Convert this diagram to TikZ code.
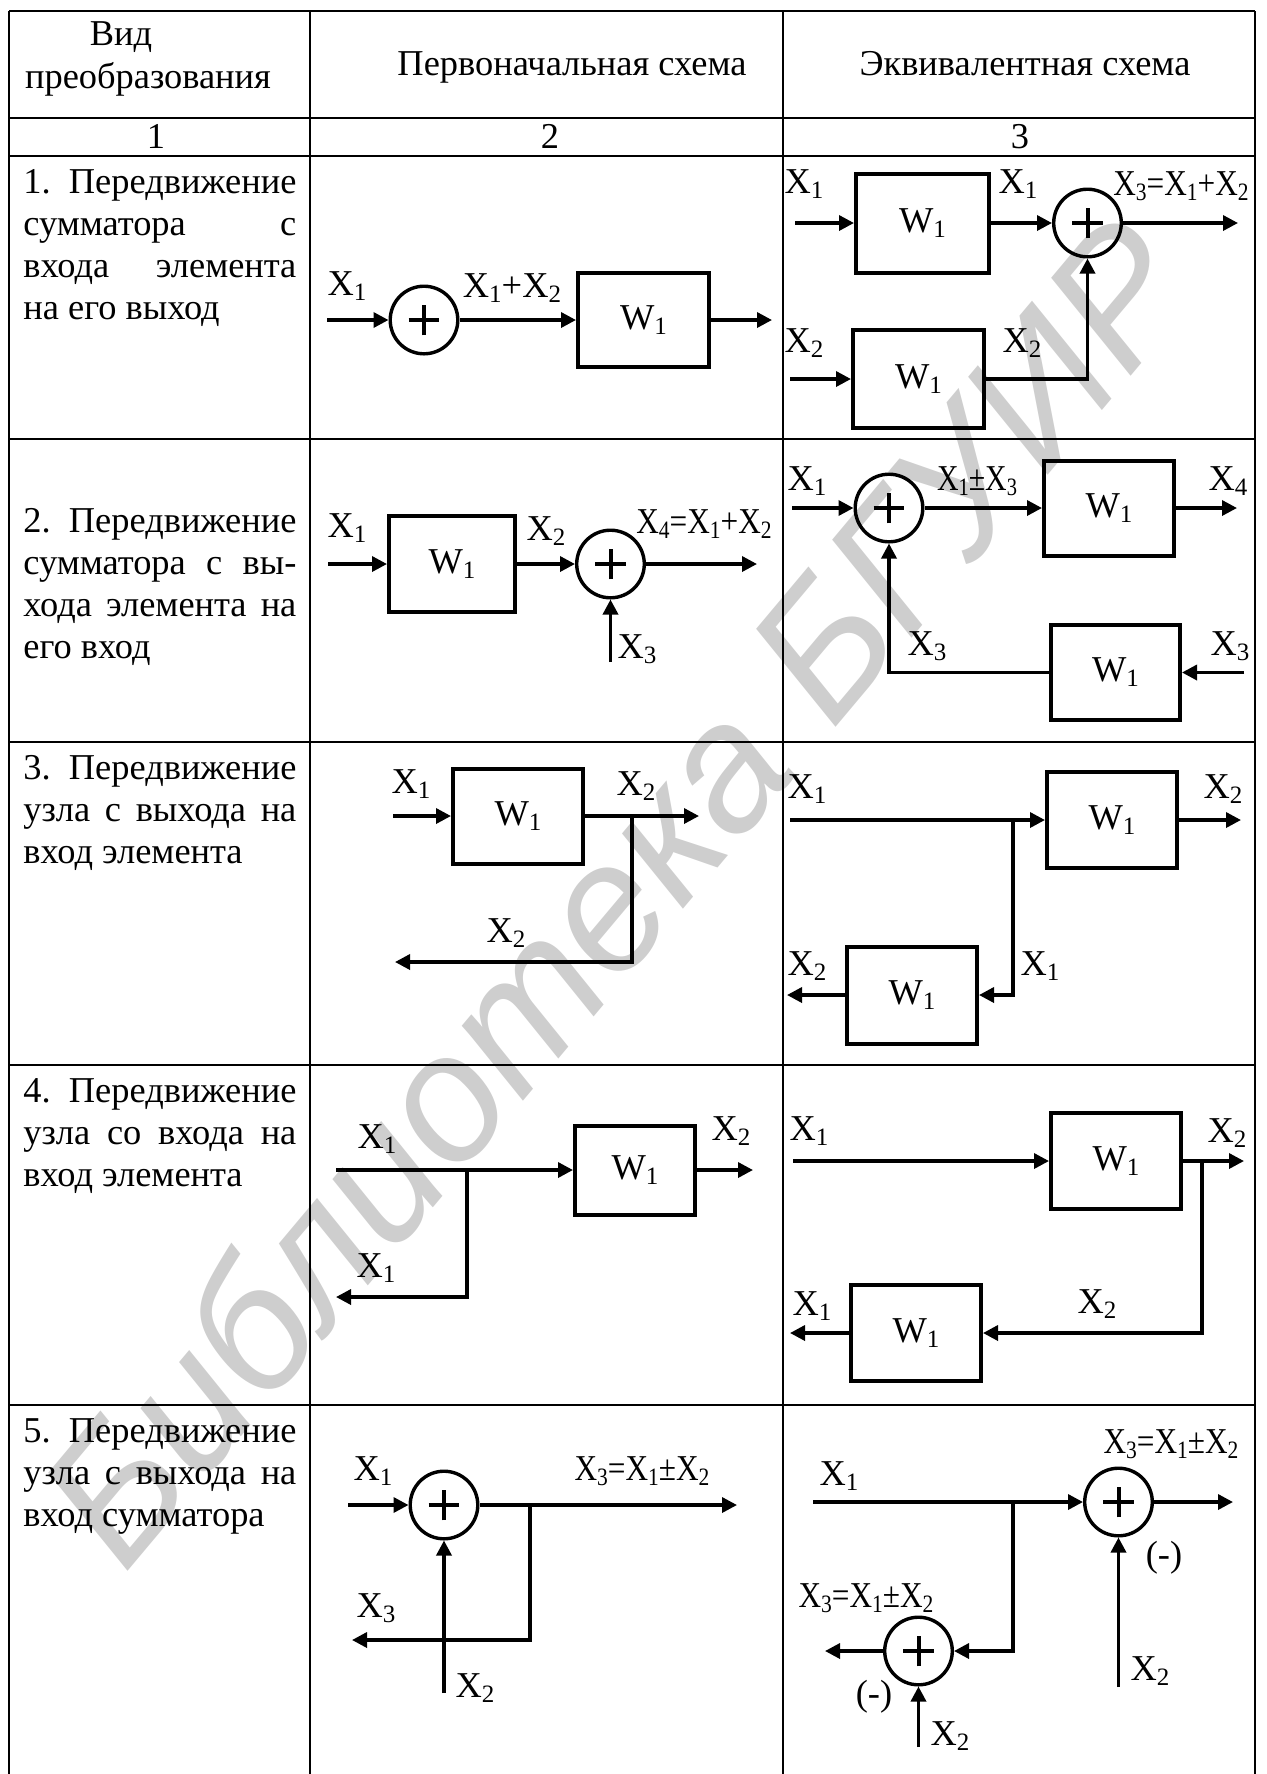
\documentclass[tikz,border=0pt]{standalone}
\usepackage{fontspec}
\usepackage{graphicx}
\setmainfont{Liberation Serif}
\newfontfamily\wmfont{Liberation Sans}
\usetikzlibrary{arrows.meta}
\definecolor{wmgray}{RGB}{206,206,206}
\newcommand{\lo}[1]{\raisebox{-2.5pt}{\fontsize{12.5pt}{12.5pt}\selectfont #1}}
\newcommand{\X}[1]{X\lo{#1}}
\newcommand{\cnd}[2]{\scalebox{#1}[1]{#2}}
\newcommand{\mainfs}{\fontsize{18.2pt}{21pt}\selectfont}
\tikzset{
  lbl/.style={inner sep=0pt, anchor=base, font=\mainfs},
  blk/.style={draw, line width=2pt, inner sep=0pt, font=\mainfs},
  sum/.style={circle, draw, line width=1.7pt, minimum size=33.8pt, inner sep=0pt,
     path picture={\draw[line width=2pt] ([xshift=-7.7pt]path picture bounding box.center) -- ([xshift=7.7pt]path picture bounding box.center);
                   \draw[line width=2pt] ([yshift=-7.7pt]path picture bounding box.center) -- ([yshift=7.7pt]path picture bounding box.center);}},
  sig/.style={line width=1.7pt, -{Triangle[length=7.5pt,width=7.5pt]}},
  grid/.style={line width=1.2pt},
  txt/.style={anchor=base west, inner sep=0pt, font=\mainfs},
  hd/.style={anchor=base, inner sep=0pt, font=\mainfs},
}
\begin{document}
\begin{tikzpicture}[x=0.5pt,y=-0.5pt]
\useasboundingbox (0,0) rectangle (1266,1774);
% watermark
\node[rotate=50, text=wmgray, font=\wmfont\itshape\fontsize{90pt}{90pt}\selectfont, inner sep=0pt] (wm) at (615,890) {Библиотека БГУИР};
% table
\draw[grid] (9,11) -- (1255,11);
\draw[grid] (9,118) -- (1255,118);
\draw[grid] (9,156) -- (1255,156);
\draw[grid] (9,439) -- (1255,439);
\draw[grid] (9,742) -- (1255,742);
\draw[grid] (9,1065) -- (1255,1065);
\draw[grid] (9,1405) -- (1255,1405);
\draw[grid] (9,11) -- (9,1774);
\draw[grid] (310,11) -- (310,1774);
\draw[grid] (783,11) -- (783,1774);
\draw[grid] (1255,11) -- (1255,1774);
% header
\node[hd] (h1a) at (121,45) {Вид};
\node[hd] (h1b) at (148,88) {преобразования};
\node[hd] (h2) at (572,75) {Первоначальная схема};
\node[hd] (h3) at (1025,75) {Эквивалентная схема};
\node[hd] (n1) at (156,148) {1};
\node[hd] (n2) at (550,148) {2};
\node[hd] (n3) at (1020,148) {3};
% column 1
\node[txt] (t1) at (23,193) {\parbox[t]{136.5pt}{1.\hfill Передвижение\\ сумматора\hfill с\\ входа\hfill элемента\\ на его выход}};
\node[txt] (t2) at (23,532) {\parbox[t]{136.5pt}{2.\hfill Передвижение\\ сумматора\hfill с\hfill вы-\\ хода\hfill элемента\hfill на\\ его вход}};
\node[txt] (t3) at (23,779) {\parbox[t]{136.5pt}{3.\hfill Передвижение\\ узла\hfill с\hfill выхода\hfill на\\ вход элемента}};
\node[txt] (t4) at (23,1102) {\parbox[t]{136.5pt}{4.\hfill Передвижение\\ узла\hfill со\hfill входа\hfill на\\ вход элемента}};
\node[txt] (t5) at (23,1442) {\parbox[t]{136.5pt}{5.\hfill Передвижение\\ узла\hfill с\hfill выхода\hfill на\\ вход сумматора}};
% ---- row 1, col 2
\node[sum] (s1) at (424,320) {};
\node[blk, minimum width=65.5pt, minimum height=47pt] (b1) at (643.5,320) {W\lo{1}};
\coordinate (s1in) at (327,320);
\coordinate (b1out) at (772,320);
\draw[sig] (s1in) -- (s1);
\draw[sig] (s1) -- (b1);
\draw[sig] (b1) -- (b1out);
\node[lbl] (l11) at (347,295) {\X{1}};
\node[lbl] (l12) at (512,297) {\X{1}+\X{2}};
% ---- row 1, col 3
\node[blk, minimum width=66.5pt, minimum height=49.5pt] (b2) at (922.5,223) {W\lo{1}};
\node[sum] (s2) at (1087.5,223) {};
\node[blk, minimum width=65.5pt, minimum height=49pt] (b3) at (918.5,379) {W\lo{1}};
\coordinate (b2in) at (795,223);
\coordinate (s2out) at (1238,223);
\coordinate (b3in) at (790,379);
\coordinate (c3) at (1087.5,379);
\draw[sig] (b2in) -- (b2);
\draw[sig] (b2) -- (s2);
\draw[sig] (s2) -- (s2out);
\draw[sig] (b3in) -- (b3);
\draw[sig] (b3) -- (c3) -- (s2);
\node[lbl] (l13) at (804,193) {\X{1}};
\node[lbl] (l14) at (1018,193) {\X{1}};
\node[lbl] (l15) at (1181,195) {\cnd{0.86}{\X{3}=\X{1}+\X{2}}};
\node[lbl] (l16) at (804,352) {\X{2}};
\node[lbl] (l17) at (1022,352) {\X{2}};
% ---- row 2, col 2
\node[blk, minimum width=63pt, minimum height=48pt] (b4) at (452,564) {W\lo{1}};
\node[sum] (s4) at (610.5,564) {};
\coordinate (b4in) at (328,564);
\coordinate (s4out) at (757,564);
\coordinate (s4x3) at (610.5,662);
\draw[sig] (b4in) -- (b4);
\draw[sig] (b4) -- (s4);
\draw[sig] (s4) -- (s4out);
\draw[sig] (s4x3) -- (s4);
\node[lbl] (l21) at (347,537) {\X{1}};
\node[lbl] (l22) at (546,540) {\X{2}};
\node[lbl] (l23) at (704,533) {\cnd{0.86}{\X{4}=\X{1}+\X{2}}};
\node[lbl] (l24) at (637,658) {\X{3}};
% ---- row 2, col 3
\node[sum] (s5) at (889,508) {};
\node[blk, minimum width=65pt, minimum height=47.5pt] (b5) at (1109,508) {W\lo{1}};
\node[blk, minimum width=64.5pt, minimum height=47.5pt] (b6) at (1115.5,672.5) {W\lo{1}};
\coordinate (s5in) at (792,508);
\coordinate (b5out) at (1237,508);
\coordinate (b6in) at (1244,672.5);
\coordinate (c6) at (889,672.5);
\draw[sig] (s5in) -- (s5);
\draw[sig] (s5) -- (b5);
\draw[sig] (b5) -- (b5out);
\draw[sig] (b6in) -- (b6);
\draw[sig] (b6) -- (c6) -- (s5);
\node[lbl] (l25) at (807,490) {\X{1}};
\node[lbl] (l26) at (977,490) {\cnd{0.82}{\X{1}±\X{3}}};
\node[lbl] (l27) at (1228,490) {\X{4}};
\node[lbl] (l28) at (1230,655) {\X{3}};
\node[lbl] (l29) at (927,655) {\X{3}};
% ---- row 3, col 2
\node[blk, minimum width=65pt, minimum height=47.5pt] (b7) at (518,816) {W\lo{1}};
\coordinate (b7in) at (393,816);
\coordinate (b7out) at (699,816);
\coordinate (br7) at (632,816);
\coordinate (c7) at (632,962);
\coordinate (e7) at (395,962);
\draw[sig] (b7in) -- (b7);
\draw[sig] (b7) -- (b7out);
\draw[sig] (br7) -- (c7) -- (e7);
\node[lbl] (l31) at (411,793) {\X{1}};
\node[lbl] (l32) at (636,795) {\X{2}};
\node[lbl] (l33) at (506,942) {\X{2}};
% ---- row 3, col 3
\node[blk, minimum width=65pt, minimum height=48pt] (b8) at (1112,820) {W\lo{1}};
\node[blk, minimum width=65pt, minimum height=48.5pt] (b9) at (912,995) {W\lo{1}};
\coordinate (b8in) at (790,820);
\coordinate (b8out) at (1241,820);
\coordinate (br8) at (1013,820);
\coordinate (c9) at (1013,995);
\coordinate (b9out) at (787,995);
\draw[sig] (b8in) -- (b8);
\draw[sig] (b8) -- (b8out);
\draw[sig] (br8) -- (c9) -- (b9);
\draw[sig] (b9) -- (b9out);
\node[lbl] (l34) at (807,798) {\X{1}};
\node[lbl] (l35) at (1223,798) {\X{2}};
\node[lbl] (l36) at (1040,975) {\X{1}};
\node[lbl] (l37) at (807,975) {\X{2}};
% ---- row 4, col 2
\node[blk, minimum width=60pt, minimum height=44.5pt] (b10) at (635,1170) {W\lo{1}};
\coordinate (b10in) at (336,1170);
\coordinate (b10out) at (753,1170);
\coordinate (br10) at (467,1170);
\coordinate (c10) at (467,1297);
\coordinate (e10) at (336,1297);
\draw[sig] (b10in) -- (b10);
\draw[sig] (b10) -- (b10out);
\draw[sig] (br10) -- (c10) -- (e10);
\node[lbl] (l41) at (377,1148) {\X{1}};
\node[lbl] (l42) at (376,1277) {\X{1}};
\node[lbl] (l43) at (731,1140) {\X{2}};
% ---- row 4, col 3
\node[blk, minimum width=65pt, minimum height=48pt] (b11) at (1116,1161) {W\lo{1}};
\node[blk, minimum width=65pt, minimum height=48pt] (b12) at (916,1333) {W\lo{1}};
\coordinate (b11in) at (793,1161);
\coordinate (b11out) at (1244,1161);
\coordinate (br11) at (1202,1161);
\coordinate (c12) at (1202,1333);
\coordinate (b12out) at (790,1333);
\draw[sig] (b11in) -- (b11);
\draw[sig] (b11) -- (b11out);
\draw[sig] (br11) -- (c12) -- (b12);
\draw[sig] (b12) -- (b12out);
\node[lbl] (l44) at (809,1140) {\X{1}};
\node[lbl] (l45) at (1227,1142) {\X{2}};
\node[lbl] (l46) at (1097,1313) {\X{2}};
\node[lbl] (l47) at (812,1315) {\X{1}};
% ---- row 5, col 2
\node[sum] (s13) at (444,1505) {};
\coordinate (s13in) at (348,1505);
\coordinate (s13out) at (737,1505);
\coordinate (br13) at (530,1505);
\coordinate (c13) at (530,1640);
\coordinate (e13) at (352,1640);
\coordinate (x13) at (444,1693);
\draw[sig] (s13in) -- (s13);
\draw[sig] (s13) -- (s13out);
\draw[sig] (br13) -- (c13) -- (e13);
\draw[sig] (x13) -- (s13);
\node[lbl] (l51) at (373,1480) {\X{1}};
\node[lbl] (l52) at (642,1480) {\cnd{0.86}{\X{3}=\X{1}±\X{2}}};
\node[lbl] (l53) at (376,1617) {\X{3}};
\node[lbl] (l54) at (475,1697) {\X{2}};
% ---- row 5, col 3
\node[sum] (s14) at (1118.5,1502) {};
\node[sum] (s15) at (918.5,1651) {};
\coordinate (s14in) at (813,1502);
\coordinate (s14out) at (1233,1502);
\coordinate (x14) at (1118.5,1687);
\coordinate (br14) at (1013,1502);
\coordinate (c15) at (1013,1651);
\coordinate (s15out) at (825,1651);
\coordinate (x15) at (918.5,1747);
\draw[sig] (s14in) -- (s14);
\draw[sig] (s14) -- (s14out);
\draw[sig] (x14) -- (s14);
\draw[sig] (br14) -- (c15) -- (s15);
\draw[sig] (s15) -- (s15out);
\draw[sig] (x15) -- (s15);
\node[lbl] (l55) at (839,1485) {\X{1}};
\node[lbl] (l56) at (1171,1453) {\cnd{0.86}{\X{3}=\X{1}±\X{2}}};
\node[lbl] (l57) at (1164,1566) {(-)};
\node[lbl] (l58) at (1150,1680) {\X{2}};
\node[lbl] (l59) at (866,1607) {\cnd{0.86}{\X{3}=\X{1}±\X{2}}};
\node[lbl] (l60) at (874,1705) {(-)};
\node[lbl] (l61) at (950,1745) {\X{2}};
\end{tikzpicture}
\end{document}
